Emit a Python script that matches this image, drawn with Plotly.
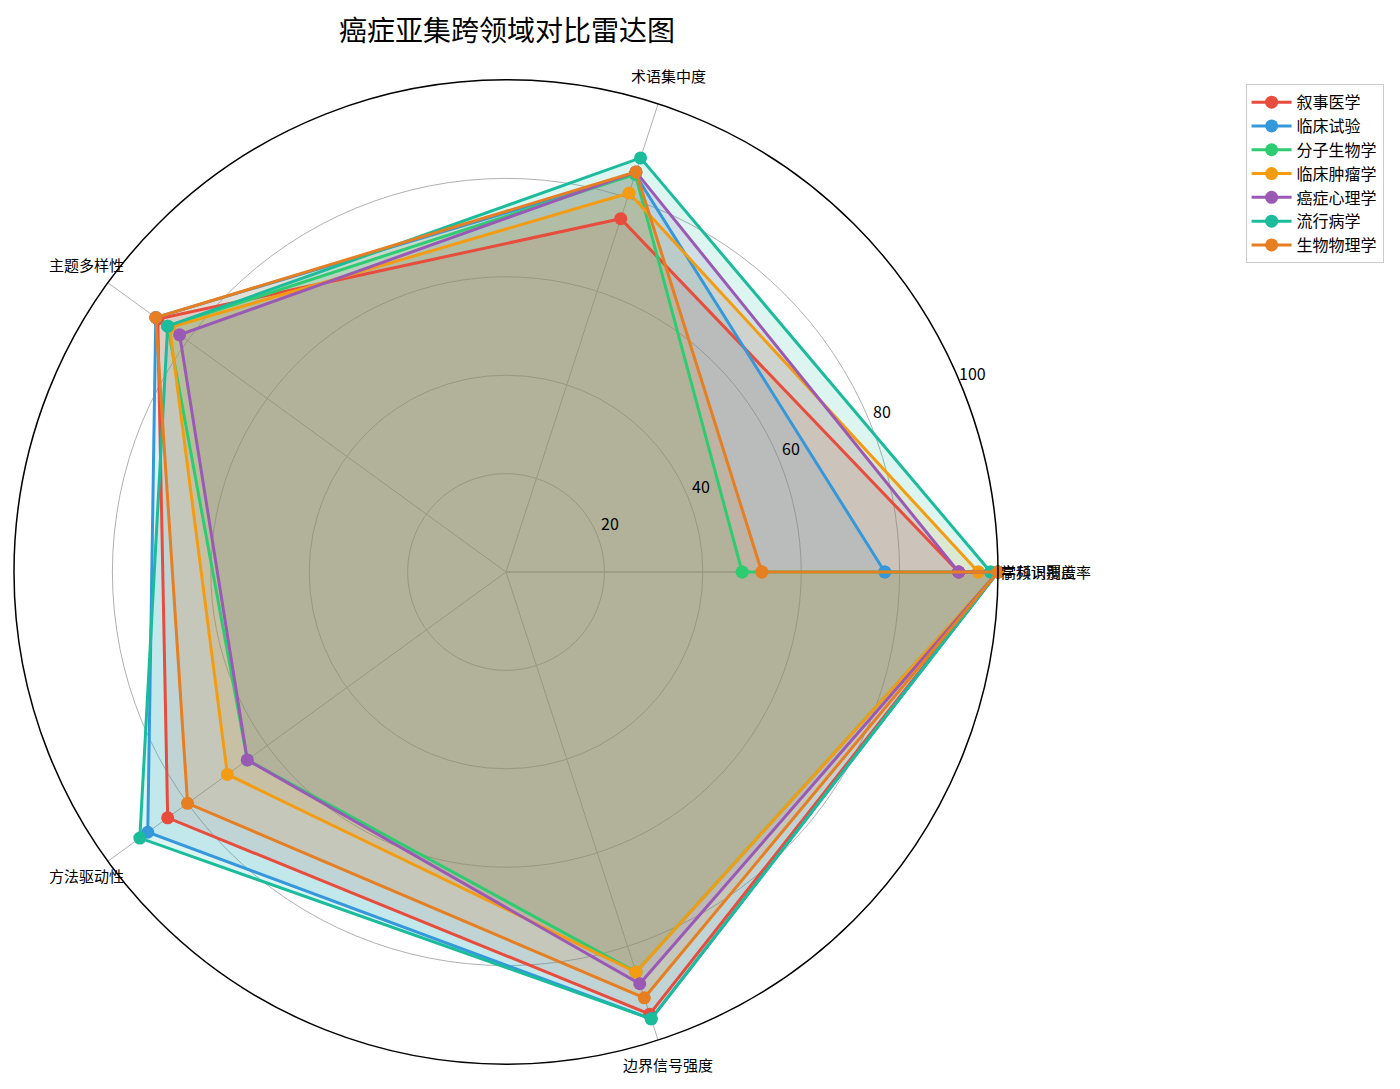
import math
import plotly.graph_objects as go

# 雷达图数据（第 6 个维度与第 1 个维度落在同一角度上，保持原图效果）
categories = ["学科识别度", "术语集中度", "主题多样性", "方法驱动性", "边界信号强度", "高频词覆盖率"]
subsets = ["叙事医学", "临床试验", "分子生物学", "临床肿瘤学", "癌症心理学", "流行病学", "生物物理学"]

narrative_med = [92, 75.5, 87.5, 85, 94.5, 100]
clinical_trial = [77, 85, 88, 90, 95.5, 100]
molecular_bio = [48, 85, 85, 65, 85.5, 100]
clinical_onco = [96, 81, 84.5, 70, 85.5, 100]
cancer_psych = [92, 85.5, 82, 65, 88, 100]
epidemiology = [98.5, 88.5, 85, 92, 95.5, 100]
biophysics = [52, 85.5, 88, 80, 91, 100]

radial_ticks = [20, 40, 60, 80, 100]

colors = ['#e74c3c', '#3498db', '#2ecc71', '#f39c12', '#9b59b6', '#1abc9c', '#e67e22']
fills = ['rgba(231,76,60,0.15)', 'rgba(52,152,219,0.15)', 'rgba(46,204,113,0.15)',
         'rgba(243,156,18,0.15)', 'rgba(155,89,182,0.15)', 'rgba(26,188,156,0.15)',
         'rgba(230,126,34,0.15)']

series = [narrative_med, clinical_trial, molecular_bio, clinical_onco,
          cancer_psych, epidemiology, biophysics]

n = len(categories)
angles = [i * 360 / (n - 1) for i in range(n)]  # like linspace(0, 360, n)

FONT = "Noto Sans CJK SC"
W, H = 1400, 1089
CX, CY, R = 504.5, 571, 490  # polar centre / radius in pixels
RLAB = 22.5  # angle of the radial tick labels

fig = go.Figure()
# fills first so that every line sits above every fill
for vals, fc in zip(series, fills):
    fig.add_trace(go.Scatterpolar(
        r=vals + vals[:1], theta=angles + angles[:1],
        mode='none', fill='toself', fillcolor=fc,
        showlegend=False, hoverinfo='skip'))
for name, vals, c in zip(subsets, series, colors):
    fig.add_trace(go.Scatterpolar(
        r=vals + vals[:1],
        theta=angles + angles[:1],
        name=name,
        mode='lines+markers',
        line=dict(color=c, width=3),
        marker=dict(color=c, size=13)))

annotations = []
# title
annotations.append(dict(
    text="癌症亚集跨领域对比雷达图", x=499 / W, y=1 - 21 / H,
    xref='paper', yref='paper', xanchor='center', yanchor='middle',
    showarrow=False, font=dict(size=28, family=FONT, color='black')))
# category labels around the circle
for ang, cat in zip(angles, categories):
    a = math.radians(ang)
    if abs(math.cos(a)) > 0.99:
        px_, py_ = CX + R - 4, CY - 8
        anchor = 'left'
    else:
        px_ = CX - 5 + 520 * math.cos(a)
        py_ = CY - 9 - 520 * math.sin(a)
        anchor = 'center'
    annotations.append(dict(
        text=cat, x=px_ / W, y=1 - py_ / H, xref='paper', yref='paper',
        xanchor=anchor, yanchor='middle', showarrow=False,
        font=dict(size=15, family=FONT, color='black')))
# radial tick labels (matplotlib style, horizontal, just above the 22.5 deg ray)
for t in radial_ticks:
    rp = t / 100 * R
    a = math.radians(RLAB)
    px_ = CX + rp * math.cos(a) + 7
    py_ = CY - rp * math.sin(a) - 18
    annotations.append(dict(
        text=str(t), x=px_ / W, y=1 - py_ / H, xref='paper', yref='paper',
        xanchor='center', yanchor='middle', showarrow=False,
        font=dict(size=16, family=FONT, color='black')))

fig.update_layout(
    width=W, height=H,
    margin=dict(l=0, r=0, t=0, b=0),
    paper_bgcolor='white',
    font=dict(family=FONT, color='black'),
    annotations=annotations,
    polar=dict(
        domain=dict(x=[6 / W, 990 / W], y=[1 - 1056 / H, 1 - 72 / H]),
        bgcolor='white',
        angularaxis=dict(
            thetaunit='degrees', rotation=0, direction='counterclockwise',
            tickmode='array', tickvals=angles, ticktext=categories,
            showticklabels=False,
            showline=True, linecolor='black', linewidth=1.5,
            gridcolor='#b0b0b0', gridwidth=1, ticks=''),
        radialaxis=dict(
            range=[0, 100], tickmode='array', tickvals=radial_ticks,
            angle=RLAB, showticklabels=False, showline=False, ticks='',
            gridcolor='#b0b0b0', gridwidth=1)),
    legend=dict(x=0.884, y=0.93, xanchor='left', yanchor='top',
                itemwidth=40,
                bordercolor='#cccccc', borderwidth=1, bgcolor='white',
                font=dict(size=16, family=FONT)))

fig.write_html("out.html")
